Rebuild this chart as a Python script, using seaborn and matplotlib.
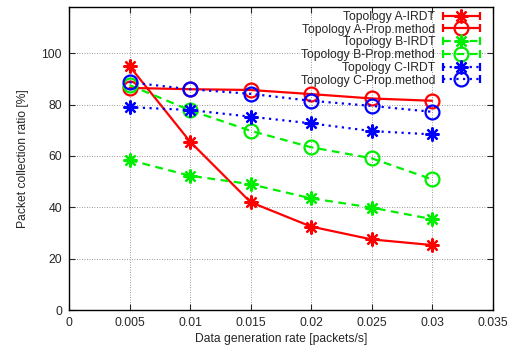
import numpy as np
import pandas as pd
import matplotlib
matplotlib.use("Agg")
import matplotlib.pyplot as plt
import seaborn as sns
from matplotlib.lines import Line2D
from matplotlib.legend_handler import HandlerLine2D

rates = [0.005, 0.01, 0.015, 0.02, 0.025, 0.03]
a_irdt = [95.0, 65.6, 42.0, 32.5, 27.5, 25.3]
a_prop = [86.5, 86.0, 85.7, 84.1, 82.4, 81.5]
b_irdt = [58.4, 52.3, 49.0, 43.5, 39.9, 35.4]
b_prop = [87.6, 77.8, 69.8, 63.4, 59.1, 50.9]
c_irdt = [79.0, 77.9, 75.3, 72.7, 69.7, 68.4]
c_prop = [88.7, 86.0, 84.2, 81.5, 79.5, 77.2]

labels = ["Topology A-IRDT", "Topology A-Prop.method", "Topology B-IRDT",
          "Topology B-Prop.method", "Topology C-IRDT", "Topology C-Prop.method"]
series = [a_irdt, a_prop, b_irdt, b_prop, c_irdt, c_prop]
colors = ["#ff0000", "#ff0000", "#00ee00", "#00ee00", "#0000ff", "#0000ff"]
styles = ["-", "-", (0, (3.5, 2.5)), (0, (3.5, 2.5)), (0, (1, 2)), (0, (1, 2))]
ast = (8, 2, 0)
markers = [ast, "o", ast, "o", ast, "o"]

sns.set_style("ticks")
plt.rcParams['font.family'] = ['Liberation Sans', 'DejaVu Sans']
plt.rcParams['font.size'] = 8

fig = plt.figure(figsize=(5.18, 3.53), dpi=100)
ax = fig.add_axes([0.1332, 0.1218, 0.951 - 0.1332, 0.980 - 0.1218])

handles = []
for lab, vals, c, ls, m in zip(labels, series, colors, styles, markers):
    df = pd.DataFrame({"x": rates, "y": vals})
    sns.lineplot(data=df, x="x", y="y", ax=ax, color=c, linestyle=ls, marker=m,
                 markersize=10, markeredgewidth=1.6,
                 markerfacecolor="none" if m == "o" else c, markeredgecolor=c,
                 linewidth=1.6, legend=False)
    handles.append(Line2D([], [], color=c, linestyle=ls, marker=m, markersize=10,
                          markeredgewidth=1.6, markerfacecolor="none" if m == "o" else c,
                          markeredgecolor=c, linewidth=1.6))


class CapHandler(HandlerLine2D):
    def create_artists(self, legend, orig_handle, xdescent, ydescent, width,
                       height, fontsize, trans):
        arts = super().create_artists(legend, orig_handle, xdescent, ydescent,
                                      width, height, fontsize, trans)
        y = (height - ydescent) / 2
        caps = Line2D([-xdescent, width - xdescent], [y, y], linestyle="none",
                      marker="|", markersize=6, markeredgewidth=1.6,
                      color=orig_handle.get_color(), transform=trans)
        return list(arts) + [caps]


leg = ax.legend(handles, labels, loc="upper right", bbox_to_anchor=(0.99, 1.015),
                markerfirst=False, frameon=False, handlelength=3.05,
                handletextpad=0.66, labelspacing=0.06, fontsize=8.7,
                borderaxespad=0.3, handler_map={Line2D: CapHandler(numpoints=1)})

ax.set_xlim(0, 0.035)
ax.set_ylim(0, 118)
ax.set_xticks([0, 0.005, 0.01, 0.015, 0.02, 0.025, 0.03, 0.035])
ax.set_xticklabels(["0", "0.005", "0.01", "0.015", "0.02", "0.025", "0.03", "0.035"])
ax.set_yticks([0, 20, 40, 60, 80, 100])
ax.grid(True, linestyle=(0, (1, 2)), color="#777777", linewidth=0.6)
ax.tick_params(direction="in", top=True, right=True, length=4, width=0.8,
               labelsize=8.8, pad=5)
for s in ax.spines.values():
    s.set_visible(True)
    s.set_linewidth(1.0)
    s.set_color("black")
ax.set_xlabel("Data generation rate [packets/s]", fontsize=8.7, labelpad=3)
ax.set_ylabel("Packet collection ratio [%]", fontsize=8.7, labelpad=9)

fig.savefig("out.png", dpi=100)
